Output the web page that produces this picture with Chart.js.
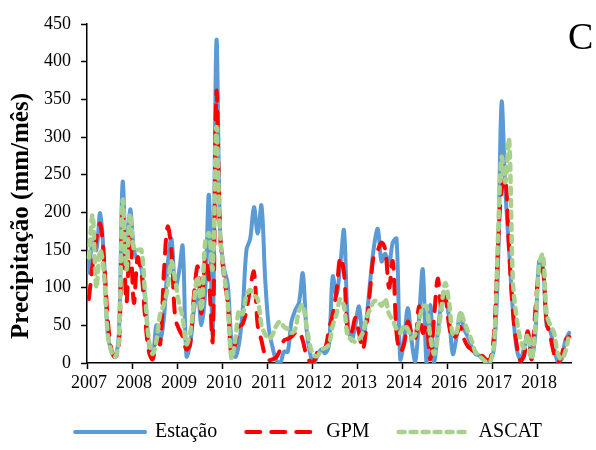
<!DOCTYPE html>
<html>
<head>
<meta charset="utf-8">
<script src="https://cdn.jsdelivr.net/npm/chart.js@4.4.0/dist/chart.umd.min.js"></script>
<style>
  html, body { margin: 0; padding: 0; background: #fff; }
  #wrap { width: 596px; height: 450px; position: relative; }
</style>
</head>
<body>
<div id="wrap"><canvas id="chart"></canvas></div>
<script>
// x categories: one label per month, year labels shown at each january
var years = ['2007', '2008', '2009', '2010', '2011', '2012', '2013', '2014', '2016', '2017', '2018'];
var monthsPerYear = [12, 12, 12, 12, 12, 12, 12, 12, 12, 12, 9];

// monthly precipitation (mm/mês)
var estacao = [
  120, 160, 150, 199, 140, 40, 15, 8, 40, 240, 140, 204,
  150, 135, 125, 85, 25, 5, 50, 30, 60, 130, 165, 100,
  120, 155, 9, 25, 70, 95, 50, 95, 223, 40, 428, 170,
  126, 105, 30, 8, 25, 70, 150, 165, 207, 172, 209, 110,
  45, 20, 3, 0, 15, 15, 55, 70, 80, 119, 45, 12,
  0, 10, 18, 13, 25, 115, 90, 130, 176, 55, 30, 50,
  75, 35, 60, 110, 155, 178, 135, 145, 130, 160, 165, 5,
  30, 73, 30, 2, 60, 124, 0, 77, 0, 40, 80, 85,
  60, 12, 35, 66, 45, 35, 22, 12, 10, 5, 2, 3,
  20, 120, 346, 230, 150, 70, 20, 5, 20, 40, 5, 40,
  135, 130, 50, 42, 20, 2, 5, 30, 40
];
var gpm = [
  85, 130, 165, 185, 140, 60, 18, 8, 20, 200, 80, 170,
  80, 140, 120, 60, 15, 5, 30, 25, 120, 181, 150, 60,
  45, 35, 18, 25, 90, 128, 66, 140, 110, 30, 360, 170,
  115, 80, 10, 25, 48, 52, 70, 100, 121, 50, 30, 10,
  4, 5, 8, 18, 30, 32, 35, 40, 42, 30, 10, 2,
  3, 15, 22, 20, 45, 65, 95, 140, 120, 40, 40, 60,
  40, 18, 50, 100, 145, 150, 160, 150, 100, 135, 40, 15,
  25, 55, 40, 32, 75, 40, 50, 5, 60, 112, 70, 88,
  50, 32, 38, 48, 32, 22, 18, 13, 11, 9, 4, 6,
  40, 150, 230, 245, 150, 70, 25, 3, 10, 42, 5, 70,
  120, 125, 55, 35, 12, 0, 10, 30, 35
];
var ascat = [
  140, 196, 100, 150, 120, 40, 15, 8, 30, 216, 124, 198,
  150, 150, 150, 90, 30, 12, 30, 65, 78, 100, 135, 110,
  80, 60, 25, 40, 80, 115, 70, 160, 172, 125, 313, 170,
  120, 80, 6, 30, 70, 65, 90, 97, 90, 85, 50, 38,
  32, 38, 50, 55, 48, 45, 40, 45, 70, 77, 50, 22,
  10, 10, 18, 20, 25, 50, 65, 85, 75, 35, 32, 28,
  32, 40, 60, 72, 82, 82, 76, 85, 65, 57, 45, 40,
  50, 45, 33, 38, 55, 75, 75, 35, 12, 35, 75, 106,
  80, 38, 40, 68, 55, 42, 30, 15, 10, 5, 1, 2,
  25, 160, 273, 240, 297, 110, 60, 32, 20, 38, 5, 50,
  130, 144, 65, 50, 40, 12, 5, 15, 38
];

var yMin = 0, yMax = 450, yStep = 50;
var yTitle = 'Precipitação (mm/mês)';
var panelLetter = 'C';

var labels = [];
years.forEach(function (y, k) {
  for (var m = 1; m <= monthsPerYear[k]; m++) {
    labels.push(y + '-' + (m < 10 ? '0' + m : m));
  }
});

function isJan(i) {
  return labels[i] !== undefined && labels[i].slice(5) === '01';
}

var serif = '"Liberation Serif", "Times New Roman", serif';

// y title and panel letter, drawn on top
var extrasPlugin = {
  id: 'extras',
  afterLayout: function (chart) {
    // legend sits a bit right of centre in the original
    chart.legend.left += 23;
    chart.legend.right += 23;
  },
  afterDraw: function (chart) {
    var ctx = chart.ctx;
    ctx.save();
    ctx.fillStyle = '#000';
    ctx.font = 'bold 25px ' + serif;
    ctx.textAlign = 'center';
    ctx.textBaseline = 'middle';
    ctx.translate(22, 216);
    ctx.rotate(-Math.PI / 2);
    ctx.fillText(yTitle, 0, 0);
    ctx.restore();

    ctx.save();
    ctx.fillStyle = '#000';
    ctx.font = '38px ' + serif;
    ctx.textAlign = 'left';
    ctx.textBaseline = 'alphabetic';
    ctx.fillText(panelLetter, 568, 49);
    ctx.restore();
  }
};

var canvas = document.getElementById('chart');
var chart = new Chart(canvas, {
  type: 'line',
  data: {
    labels: labels,
    datasets: [{
      label: 'Estação',
      data: estacao,
      borderColor: '#5B9BD5',
      backgroundColor: '#5B9BD5',
      borderWidth: 4,
      order: 3
    }, {
      label: 'GPM',
      data: gpm,
      borderColor: '#FF0000',
      backgroundColor: '#FF0000',
      borderWidth: 4,
      borderDash: [14, 11],
      order: 2
    }, {
      label: 'ASCAT',
      data: ascat,
      borderColor: '#A9D18E',
      backgroundColor: '#A9D18E',
      borderWidth: 4.5,
      borderDash: [6, 6],
      order: 1
    }]
  },
  options: {
    responsive: true,
    maintainAspectRatio: false,
    devicePixelRatio: 1,
    animation: false,
    elements: {
      point: { radius: 0, hoverRadius: 0 },
      line: { tension: 0.35, borderCapStyle: 'round', borderJoinStyle: 'round', fill: false }
    },
    layout: {
      padding: { left: 0, right: 25, top: 24, bottom: 0 }
    },
    plugins: {
      legend: {
        position: 'bottom',
        maxHeight: 57,
        labels: {
          usePointStyle: true,
          pointStyle: 'line',
          pointStyleWidth: 70,
          padding: 29,
          color: '#000',
          font: { family: serif, size: 20 },
          sort: function (a, b) { return a.datasetIndex - b.datasetIndex; },
          generateLabels: function (chart) {
            // point-style legend items lose the dash, take it from the dataset
            var items = Chart.defaults.plugins.legend.labels.generateLabels(chart);
            items.forEach(function (it) {
              var ds = chart.data.datasets[it.datasetIndex];
              it.lineDash = ds.borderDash || [];
              it.lineWidth = ds.borderWidth;
              it.lineCap = 'round';
              it.strokeStyle = ds.borderColor;
            });
            return items;
          }
        }
      },
      tooltip: { enabled: false }
    },
    scales: {
      x: {
        type: 'category',
        offset: true,
        grid: {
          offset: true,
          drawOnChartArea: false,
          drawTicks: true,
          tickLength: 6,
          tickWidth: 1.5,
          tickColor: function (c) { return isJan(c.index) ? '#000' : 'rgba(0,0,0,0)'; }
        },
        border: { display: true, color: '#000', width: 1.5 },
        ticks: {
          autoSkip: false,
          maxRotation: 0,
          minRotation: 0,
          padding: 3,
          color: '#000',
          font: { family: serif, size: 18 },
          callback: function (value, index) {
            return isJan(index) ? labels[index].slice(0, 4) : '';
          }
        },
        afterFit: function (scale) { scale.height = 30; }
      },
      y: {
        min: yMin,
        max: yMax,
        grid: {
          drawOnChartArea: false,
          drawTicks: true,
          tickLength: 6,
          tickWidth: 1.5,
          tickColor: '#000'
        },
        border: { display: true, color: '#000', width: 1.5 },
        ticks: {
          stepSize: yStep,
          padding: 10,
          color: '#000',
          font: { family: serif, size: 18 }
        },
        afterFit: function (scale) { scale.width = 87; }
      }
    }
  },
  plugins: [extrasPlugin]
});
</script>
</body>
</html>
